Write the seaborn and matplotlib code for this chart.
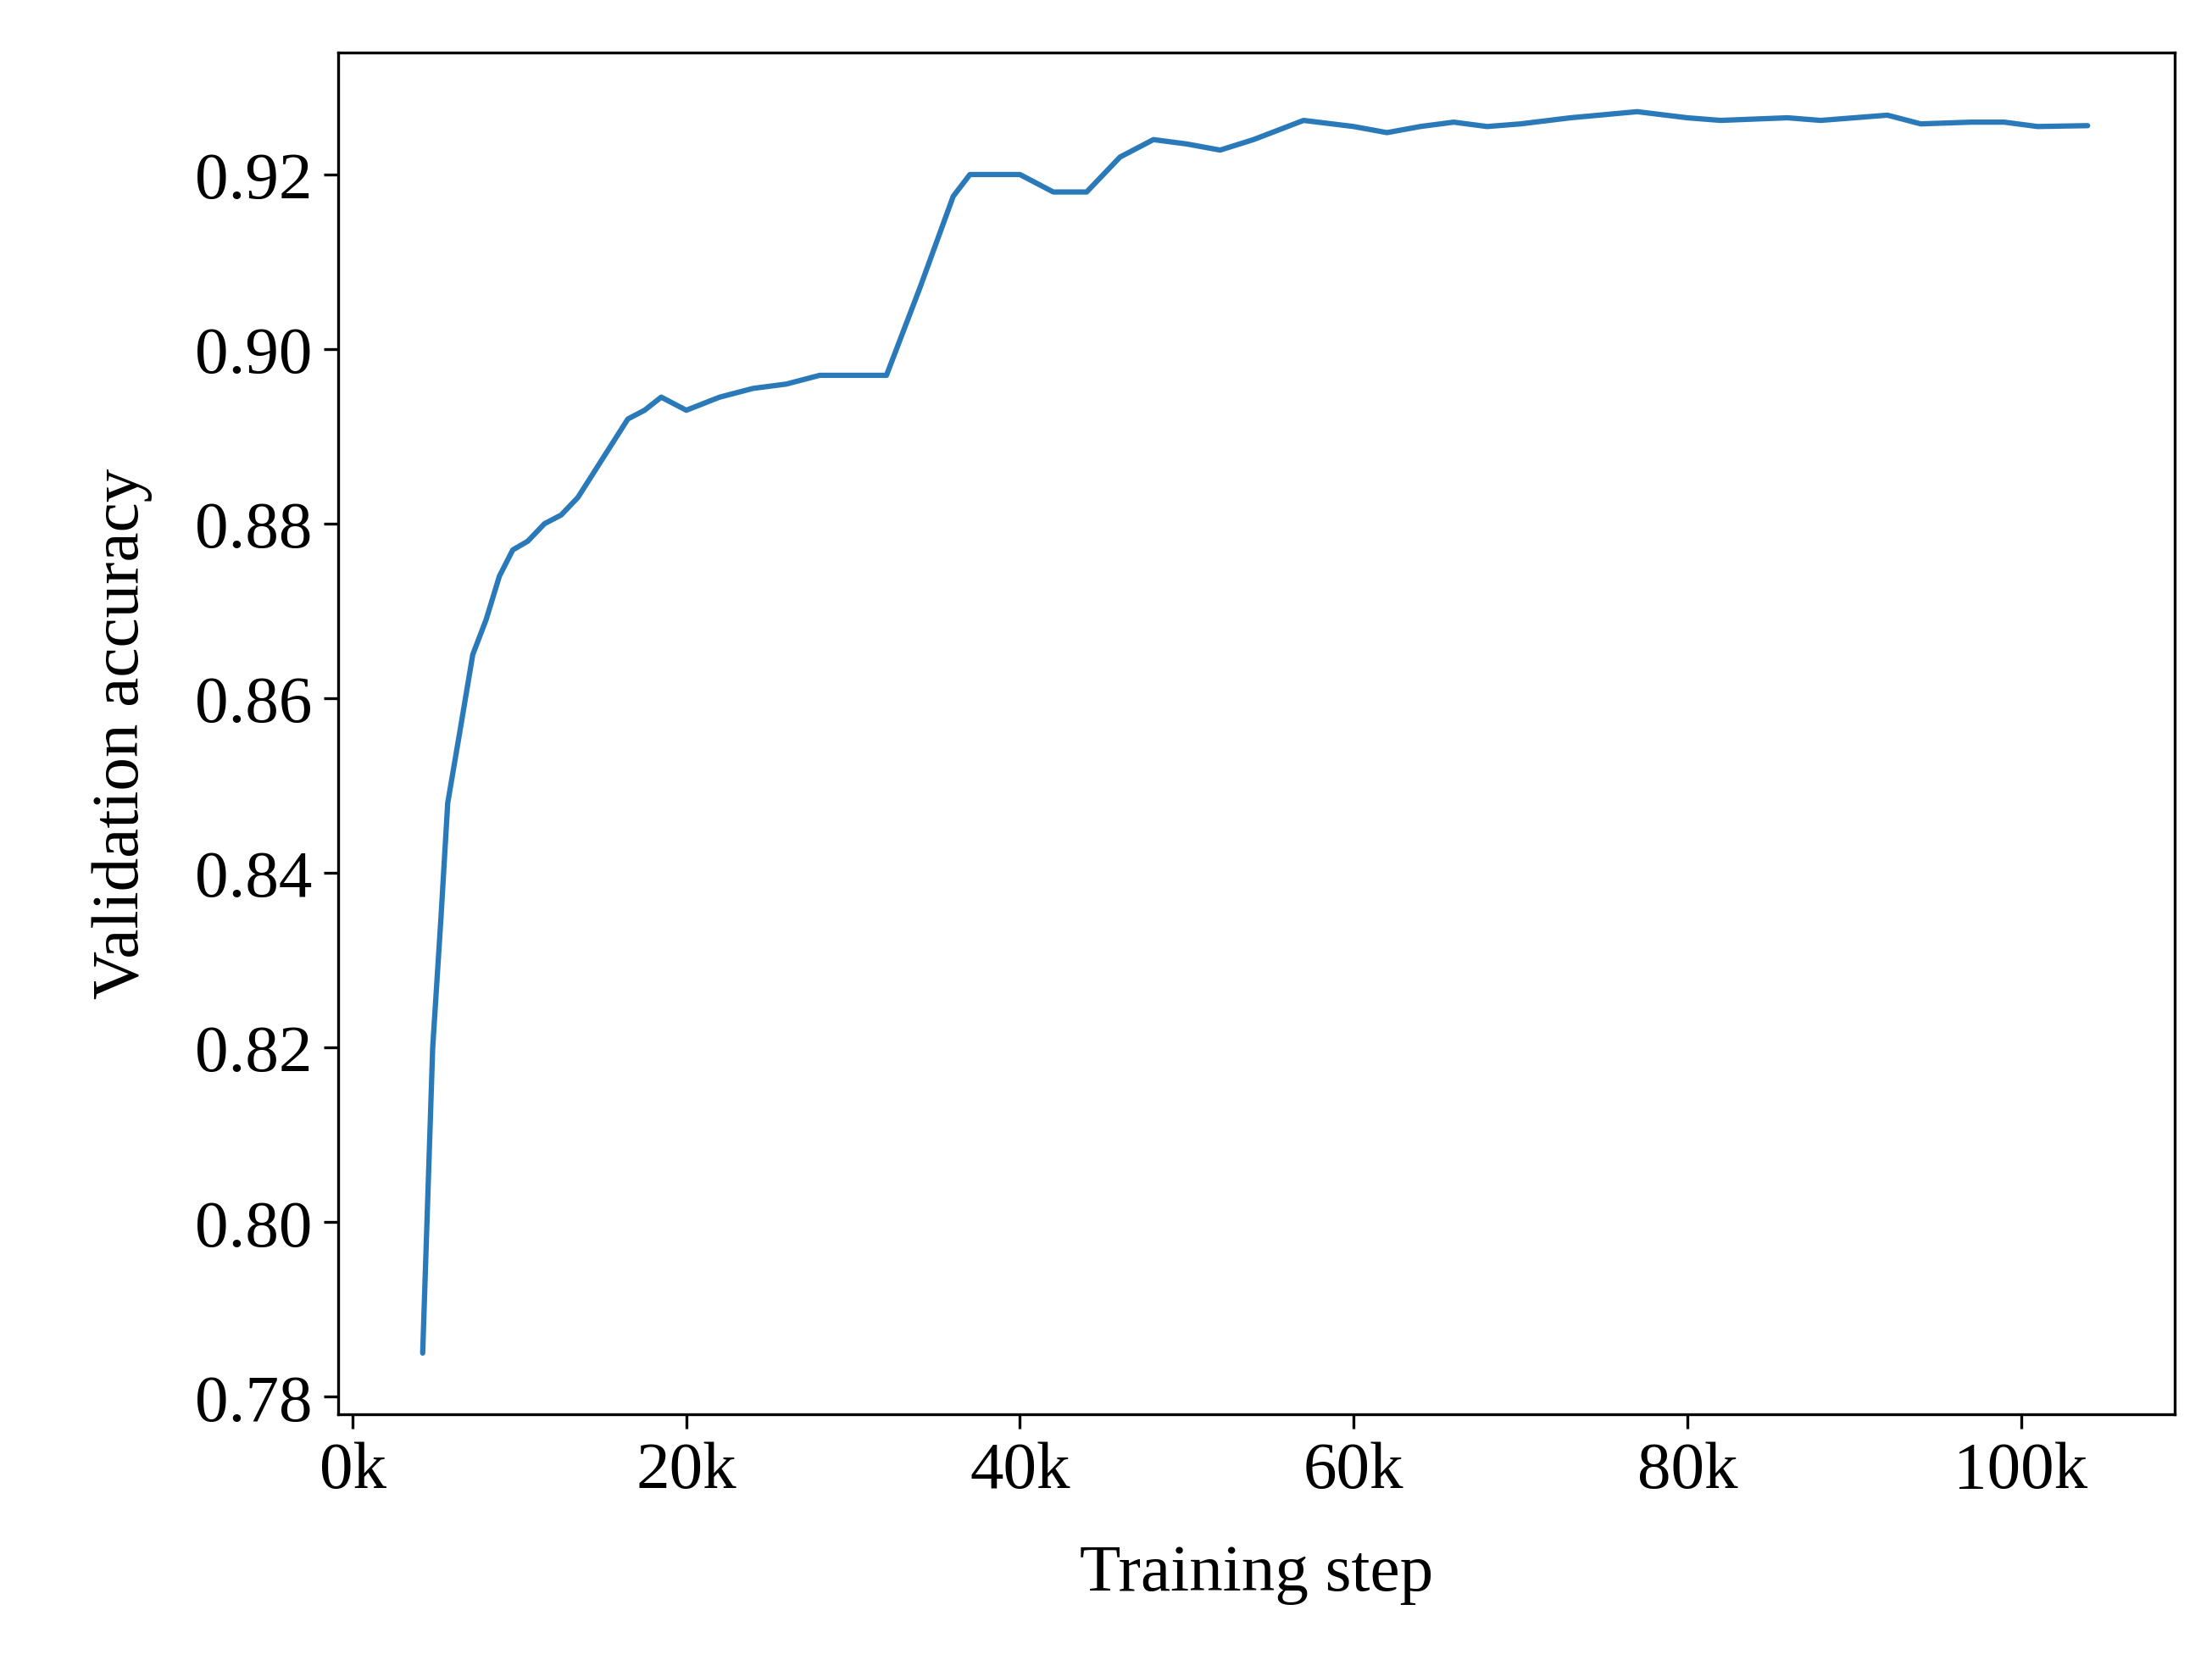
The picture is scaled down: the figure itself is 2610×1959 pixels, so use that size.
import matplotlib
matplotlib.use("Agg")
import matplotlib.pyplot as plt
import seaborn as sns
import pandas as pd
from matplotlib.ticker import FuncFormatter

steps_k = [4.2, 4.8, 5.3, 5.7, 6.5, 7.2, 8.0, 8.8, 9.6, 10.5, 11.5, 12.5, 13.5, 14.5, 15.5,
           16.5, 17.5, 18.5, 20, 22, 24, 26, 28, 30, 32, 34, 36, 37, 40, 42, 44, 46, 48, 50,
           52, 54, 57, 60, 62, 64, 66, 68, 70, 73, 77, 80, 82, 86, 88, 92, 94, 97, 99, 101, 104]
accuracy = [0.785, 0.82, 0.835, 0.848, 0.857, 0.865, 0.869, 0.874, 0.877, 0.878, 0.880, 0.881,
            0.883, 0.886, 0.889, 0.892, 0.893, 0.8945, 0.893, 0.8945, 0.8955, 0.896, 0.897,
            0.897, 0.897, 0.907, 0.9175, 0.920, 0.920, 0.918, 0.918, 0.922, 0.924, 0.9235,
            0.9228, 0.924, 0.9262, 0.9255, 0.9248, 0.9255, 0.926, 0.9255, 0.9258, 0.9265,
            0.9272, 0.9265, 0.9262, 0.9265, 0.9262, 0.9268, 0.9258, 0.926, 0.926, 0.9255, 0.9256]

df = pd.DataFrame({"step": [s * 1000 for s in steps_k], "acc": accuracy})

sns.set_style("ticks")
plt.rcParams["font.family"] = ["Liberation Serif", "DejaVu Serif"]
plt.rcParams["text.color"] = "black"
plt.rcParams["xtick.color"] = "black"
plt.rcParams["ytick.color"] = "black"
plt.rcParams["axes.labelcolor"] = "black"

fig = plt.figure(figsize=(8.7, 6.5333), dpi=300)
ax = fig.add_axes([0.153, 0.148, 0.83, 0.82])
sns.lineplot(data=df, x="step", y="acc", ax=ax, color="#2a7ab9", linewidth=1.5)
ax.set_xlim(-850, 109200)
ax.set_ylim(0.778, 0.934)
ax.set_xticks([0, 20000, 40000, 60000, 80000, 100000])
ax.xaxis.set_major_formatter(FuncFormatter(lambda v, p: f"{int(v/1000)}k"))
ax.set_yticks([0.78, 0.80, 0.82, 0.84, 0.86, 0.88, 0.90, 0.92])
ax.yaxis.set_major_formatter(FuncFormatter(lambda v, p: f"{v:.2f}"))
ax.tick_params(labelsize=19, length=4, width=0.8, colors="black")
ax.set_xlabel("Training step", fontsize=19, labelpad=12)
ax.set_ylabel("Validation accuracy", fontsize=19, labelpad=12)
for s in ax.spines.values():
    s.set_linewidth(0.8)
    s.set_color("black")
fig.savefig("out.png", dpi=300)
